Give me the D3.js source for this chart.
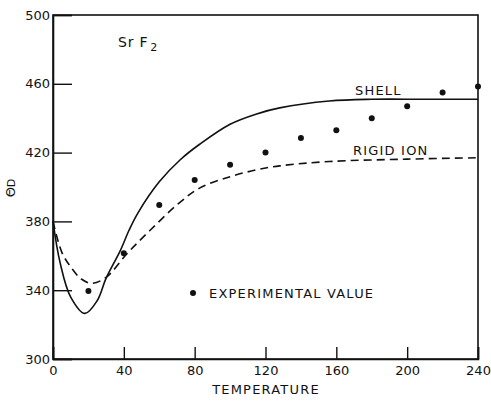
<!DOCTYPE html>
<html>
<head>
<meta charset="utf-8">
<script src="https://cdn.jsdelivr.net/npm/d3@7"></script>
<style>
  html, body { margin: 0; padding: 0; background: #fff; }
  svg text { font-family: "DejaVu Sans", "Liberation Sans", sans-serif; fill: #111; }
</style>
</head>
<body>
<svg id="chart" width="491" height="401"></svg>
<script>
// ---- data ----
const xTicks = [0, 40, 80, 120, 160, 200, 240];
const yTicks = [300, 340, 380, 420, 460, 500];

const shellT     = [0, 4, 10, 18, 25, 30, 38, 43, 48, 60, 72, 83, 100, 115, 128, 156, 180, 210, 240];
const shellTheta = [380, 356, 336, 326.5, 334, 347, 363, 375, 385, 403, 416, 425, 436.5, 442.5, 446, 450, 451, 451, 451];

const rigidT     = [0, 5, 10, 16, 22, 30, 42, 55, 71, 83, 100, 115, 128, 156, 200, 240];
const rigidTheta = [380, 362, 353.5, 346.5, 344, 347.5, 361.5, 375, 390.5, 399.5, 406, 410, 412.3, 414.8, 416.2, 417];

const expT     = [20, 40, 60, 80, 100, 120, 140, 160, 180, 200, 220, 240];
const expTheta = [339.5, 361.5, 389.5, 404, 413, 420, 428.5, 433, 440, 447, 455, 458.5];

// ---- layout ----
const svg = d3.select("#chart");
const mLeft = 53, mRight = 478, mTop = 15, mBottom = 359;

const x = d3.scaleLinear().domain([0, 240]).range([mLeft, mRight]);
const y = d3.scaleLinear().domain([300, 500]).range([mBottom, mTop]);

const ink = "#111";

// frame
svg.append("rect")
  .attr("x", mLeft).attr("y", mTop)
  .attr("width", mRight - mLeft).attr("height", mBottom - mTop)
  .attr("fill", "none").attr("stroke", ink).attr("stroke-width", 1.6);

// y axis
const yAxis = d3.axisLeft(y).tickValues(yTicks).tickSize(-19).tickPadding(3).tickFormat(d3.format("d"));
const gy = svg.append("g").attr("transform", `translate(${mLeft},0)`).call(yAxis);
gy.select(".domain").attr("stroke", ink).attr("stroke-width", 1.6);
gy.selectAll(".tick line").attr("stroke", ink).attr("stroke-width", 1.4);
gy.selectAll(".tick text").attr("font-size", 13).attr("fill", ink);

// x axis
const xAxis = d3.axisBottom(x).tickValues(xTicks).tickSize(-12).tickPadding(7).tickFormat(d3.format("d"));
const gx = svg.append("g").attr("transform", `translate(0,${mBottom})`).call(xAxis);
gx.select(".domain").attr("stroke", ink).attr("stroke-width", 1.6);
gx.selectAll(".tick line").attr("stroke", ink).attr("stroke-width", 1.4);
gx.selectAll(".tick text").attr("font-size", 13).attr("fill", ink);

// curves
const line = d3.line().x(d => x(d[0])).y(d => y(d[1])).curve(d3.curveCatmullRom.alpha(0.5));

svg.append("path")
  .datum(d3.zip(shellT, shellTheta))
  .attr("d", line)
  .attr("fill", "none").attr("stroke", ink).attr("stroke-width", 1.6);

svg.append("path")
  .datum(d3.zip(rigidT, rigidTheta))
  .attr("d", line)
  .attr("fill", "none").attr("stroke", ink).attr("stroke-width", 1.6)
  .attr("stroke-dasharray", "8,5");

// experimental points
svg.append("g").selectAll("circle")
  .data(d3.zip(expT, expTheta))
  .join("circle")
  .attr("cx", d => x(d[0])).attr("cy", d => y(d[1]))
  .attr("r", 3).attr("fill", ink);

// labels
svg.append("text").attr("x", 355).attr("y", 95).attr("font-size", 13).attr("letter-spacing", 1.2).text("SHELL");
svg.append("text").attr("x", 353).attr("y", 155).attr("font-size", 13).attr("letter-spacing", 1.2).text("RIGID  ION");

svg.append("circle").attr("cx", 193).attr("cy", 293).attr("r", 3).attr("fill", ink);
svg.append("text").attr("x", 209).attr("y", 298).attr("font-size", 13).attr("letter-spacing", 1.2).text("EXPERIMENTAL VALUE");

const sr = svg.append("text").attr("x", 118).attr("y", 47).attr("font-size", 14).attr("letter-spacing", 0.8);
sr.append("tspan").text("Sr F");
sr.append("tspan").attr("font-size", 11).attr("dx", 2).attr("dy", 4).text("2");

svg.append("text").attr("x", 266).attr("y", 394)
  .attr("text-anchor", "middle").attr("font-size", 13).attr("letter-spacing", 1.2).text("TEMPERATURE");

const yl = svg.append("text").attr("transform", "translate(15,188) rotate(-90)")
  .attr("text-anchor", "middle").attr("font-size", 13);
yl.append("tspan").text("Θ");
yl.append("tspan").attr("font-size", 11).text("D");
</script>
</body>
</html>
